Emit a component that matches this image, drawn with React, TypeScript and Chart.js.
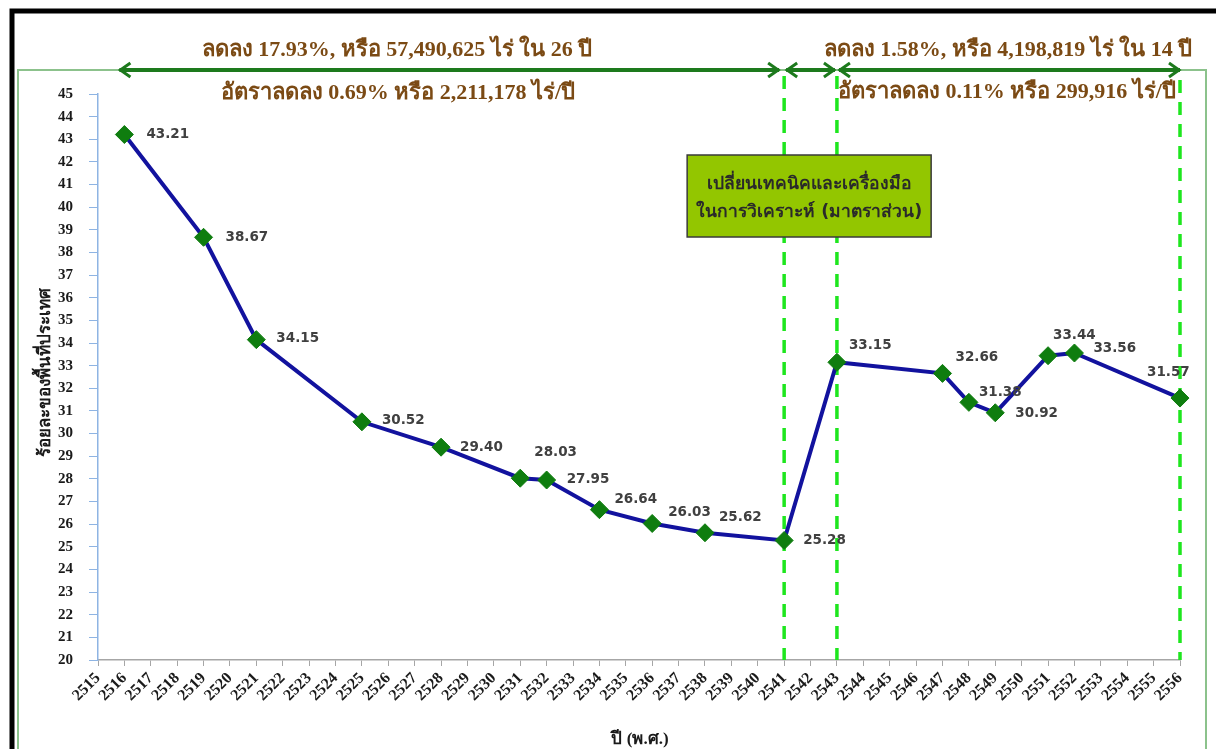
import React, { useEffect, useRef } from "react";
import { Chart, registerables } from "chart.js";

Chart.register(...registerables);

// ---------- data ----------
const categories = [
  "2515", "2516", "2517", "2518", "2519", "2520", "2521", "2522", "2523", "2524",
  "2525", "2526", "2527", "2528", "2529", "2530", "2531", "2532", "2533", "2534",
  "2535", "2536", "2537", "2538", "2539", "2540", "2541", "2542", "2543", "2544",
  "2545", "2546", "2547", "2548", "2549", "2550", "2551", "2552", "2553", "2554",
  "2555", "2556",
];

const pointYears = [
  "2516", "2519", "2521", "2525", "2528", "2531", "2532", "2534", "2536",
  "2538", "2541", "2543", "2547", "2548", "2549", "2551", "2552", "2556",
];

const forestPercent = [
  43.21, 38.67, 34.15, 30.52, 29.4, 28.03, 27.95, 26.64, 26.03,
  25.62, 25.28, 33.15, 32.66, 31.38, 30.92, 33.44, 33.56, 31.57,
];

const yMin = 20;
const yMax = 45;

const changeYears = ["2541", "2543", "2556"];

const topLeftLine1 = "ลดลง 17.93%, หรือ 57,490,625 ไร่ ใน 26 ปี";
const topLeftLine2 = "อัตราลดลง 0.69% หรือ 2,211,178 ไร่/ปี";
const topRightLine1 = "ลดลง 1.58%, หรือ 4,198,819 ไร่ ใน 14 ปี";
const topRightLine2 = "อัตราลดลง 0.11% หรือ 299,916 ไร่/ปี";
const noteLines = ["เปลี่ยนเทคนิคและเครื่องมือ", "ในการวิเคราะห์ (มาตราส่วน)"];
const yTitle = "ร้อยละของพื้นที่ประเทศ";
const xTitle = "ปี (พ.ศ.)";

// label offsets (dx, dy) relative to each marker
const labelOffsets: [number, number][] = [
  [22, 0], [22, 0], [20, -1], [20, -1], [19, 0], [14, -26], [20, -1], [15, -10], [16, -11],
  [14, -15], [19, 0], [12, -17], [13, -16], [10, -10], [20, 1], [5, -20], [19, -5], [-33, -26],
];

const SERIF = '"Liberation Serif", "DejaVu Serif", "Noto Sans", serif';
const SANS = '"DejaVu Sans", "Noto Sans", sans-serif';
const BROWN = "#7b4a14";
const ARROW = "#1d7a1d";

function drawArrow(ctx: CanvasRenderingContext2D, x1: number, x2: number, y: number) {
  ctx.save();
  ctx.strokeStyle = ARROW;
  ctx.lineWidth = 4;
  ctx.lineCap = "butt";
  ctx.beginPath();
  ctx.moveTo(x1, y);
  ctx.lineTo(x2, y);
  ctx.stroke();
  ctx.lineWidth = 3;
  ctx.beginPath();
  ctx.moveTo(x1 + 11, y - 7);
  ctx.lineTo(x1 + 1, y);
  ctx.lineTo(x1 + 11, y + 7);
  ctx.moveTo(x2 - 11, y - 7);
  ctx.lineTo(x2 - 1, y);
  ctx.lineTo(x2 - 11, y + 7);
  ctx.stroke();
  ctx.restore();
}

const decorPlugin = {
  id: "decor",
  beforeDraw(chart: any) {
    const ctx: CanvasRenderingContext2D = chart.ctx;
    ctx.save();
    ctx.fillStyle = "#ffffff";
    ctx.fillRect(0, 0, chart.width, chart.height);
    // black outer frame
    ctx.strokeStyle = "#000000";
    ctx.lineWidth = 5;
    ctx.beginPath();
    ctx.moveTo(12, 760);
    ctx.lineTo(12, 11);
    ctx.lineTo(1230, 11);
    ctx.stroke();
    // green plot frame
    ctx.strokeStyle = "#8cc28c";
    ctx.lineWidth = 2;
    ctx.beginPath();
    ctx.moveTo(18, 760);
    ctx.lineTo(18, 70);
    ctx.lineTo(1206, 70);
    ctx.lineTo(1206, 760);
    ctx.stroke();
    ctx.restore();
  },
  beforeDatasetsDraw(chart: any) {
    const ctx: CanvasRenderingContext2D = chart.ctx;
    const xs = chart.scales.x;
    const area = chart.chartArea;
    ctx.save();
    ctx.strokeStyle = "#1ee61e";
    ctx.lineWidth = 3.5;
    ctx.setLineDash([13, 9]);
    changeYears.forEach((yr, i) => {
      const px = xs.getPixelForValue(categories.indexOf(yr));
      ctx.beginPath();
      ctx.moveTo(px, i === 2 ? 80 : 76);
      ctx.lineTo(px, area.bottom);
      ctx.stroke();
    });
    ctx.setLineDash([]);
    // note box
    const x0 = xs.getPixelForValue(categories.indexOf("2541")) - 97;
    const bx = x0, by = 155, bw = 244, bh = 82;
    ctx.fillStyle = "#93c600";
    ctx.fillRect(bx, by, bw, bh);
    ctx.strokeStyle = "#3a3a3a";
    ctx.lineWidth = 1.5;
    ctx.strokeRect(bx, by, bw, bh);
    ctx.fillStyle = "#2a2a2a";
    ctx.font = `bold 17.5px ${SANS}`;
    ctx.textAlign = "center";
    ctx.textBaseline = "middle";
    ctx.fillText(noteLines[0], bx + bw / 2, by + 29);
    ctx.fillText(noteLines[1], bx + bw / 2, by + 57);
    ctx.restore();
  },
  afterDraw(chart: any) {
    const ctx: CanvasRenderingContext2D = chart.ctx;
    const xs = chart.scales.x;
    const area = chart.chartArea;
    const px = (yr: string) => xs.getPixelForValue(categories.indexOf(yr));

    // arrows
    drawArrow(ctx, px("2516") - 5, px("2541") - 5, 70);
    drawArrow(ctx, px("2541") + 2, px("2543") - 2, 70);
    drawArrow(ctx, px("2543") + 2, px("2556"), 70);

    ctx.save();
    ctx.fillStyle = BROWN;
    ctx.font = `bold 22px ${SERIF}`;
    ctx.textBaseline = "middle";
    ctx.textAlign = "center";
    ctx.fillText(topLeftLine1, 397, 50);
    ctx.fillText(topLeftLine2, 398, 93);
    ctx.fillText(topRightLine1, 1008, 50);
    ctx.textAlign = "left";
    ctx.fillText(topRightLine2, px("2543") + 1, 92);

    // axis titles
    ctx.fillStyle = "#1a1a1a";
    ctx.font = `bold 17px ${SERIF}`;
    ctx.textAlign = "center";
    ctx.fillText(xTitle, 640, 740);
    ctx.save();
    ctx.translate(46, (area.top + area.bottom) / 2 - 5);
    ctx.rotate(-Math.PI / 2);
    ctx.fillText(yTitle, 0, 0);
    ctx.restore();

    // data labels
    const meta = chart.getDatasetMeta(0);
    ctx.fillStyle = "#404040";
    ctx.font = `bold 13.5px ${SANS}`;
    ctx.textAlign = "left";
    ctx.textBaseline = "middle";
    meta.data.forEach((pt: any, i: number) => {
      const [dx, dy] = labelOffsets[i];
      ctx.fillText(forestPercent[i].toFixed(2), pt.x + dx, pt.y + dy);
    });
    ctx.restore();
  },
};

export default function App() {
  const ref = useRef<HTMLCanvasElement>(null);

  useEffect(() => {
    const prevMargin = document.body.style.margin;
    document.body.style.margin = "0";
    const canvas = ref.current!;
    const chart = new Chart(canvas, {
      type: "line",
      data: {
        labels: categories,
        datasets: [
          {
            data: pointYears.map((yr, i) => ({ x: yr, y: forestPercent[i] })),
            borderColor: "#12129e",
            borderWidth: 4,
            pointStyle: "rectRot",
            pointRadius: 9,
            pointBackgroundColor: "#0f7d0f",
            pointBorderColor: "#0f7d0f",
            pointBorderWidth: 1,
            tension: 0,
            fill: false,
          },
        ],
      },
      options: {
        responsive: false,
        animation: false,
        devicePixelRatio: 1,
        layout: { padding: { top: 94, right: 36, left: 0, bottom: 0 } },
        plugins: {
          legend: { display: false },
          tooltip: { enabled: false },
          title: { display: false },
        },
        scales: {
          x: {
            type: "category",
            offset: false,
            grid: {
              drawOnChartArea: false,
              drawTicks: true,
              tickLength: 6,
              color: "#a6a6a6",
            },
            border: { color: "#a6a6a6", width: 1.5 },
            ticks: {
              autoSkip: false,
              maxRotation: 45,
              minRotation: 45,
              padding: 3,
              color: "#1a1a1a",
              font: { family: SERIF, size: 16, weight: "bold" },
            },
            afterFit: (scale: any) => {
              scale.height = 89;
            },
          },
          y: {
            min: yMin,
            max: yMax,
            grid: {
              drawOnChartArea: false,
              drawTicks: true,
              tickLength: 9,
              color: "#8eb4e3",
            },
            border: { color: "#8eb4e3", width: 1.5 },
            ticks: {
              stepSize: 1,
              padding: 16,
              color: "#1a1a1a",
              font: { family: SERIF, size: 15, weight: "bold" },
            },
            afterFit: (scale: any) => {
              scale.width = 98;
            },
          },
        },
      },
      plugins: [decorPlugin],
    });
    return () => {
      chart.destroy();
      document.body.style.margin = prevMargin;
    };
  }, []);

  return (
    <div style={{ position: "absolute", left: 0, top: 0, width: 1216, height: 749 }}>
      <canvas ref={ref} width={1216} height={749} style={{ display: "block" }} />
    </div>
  );
}
